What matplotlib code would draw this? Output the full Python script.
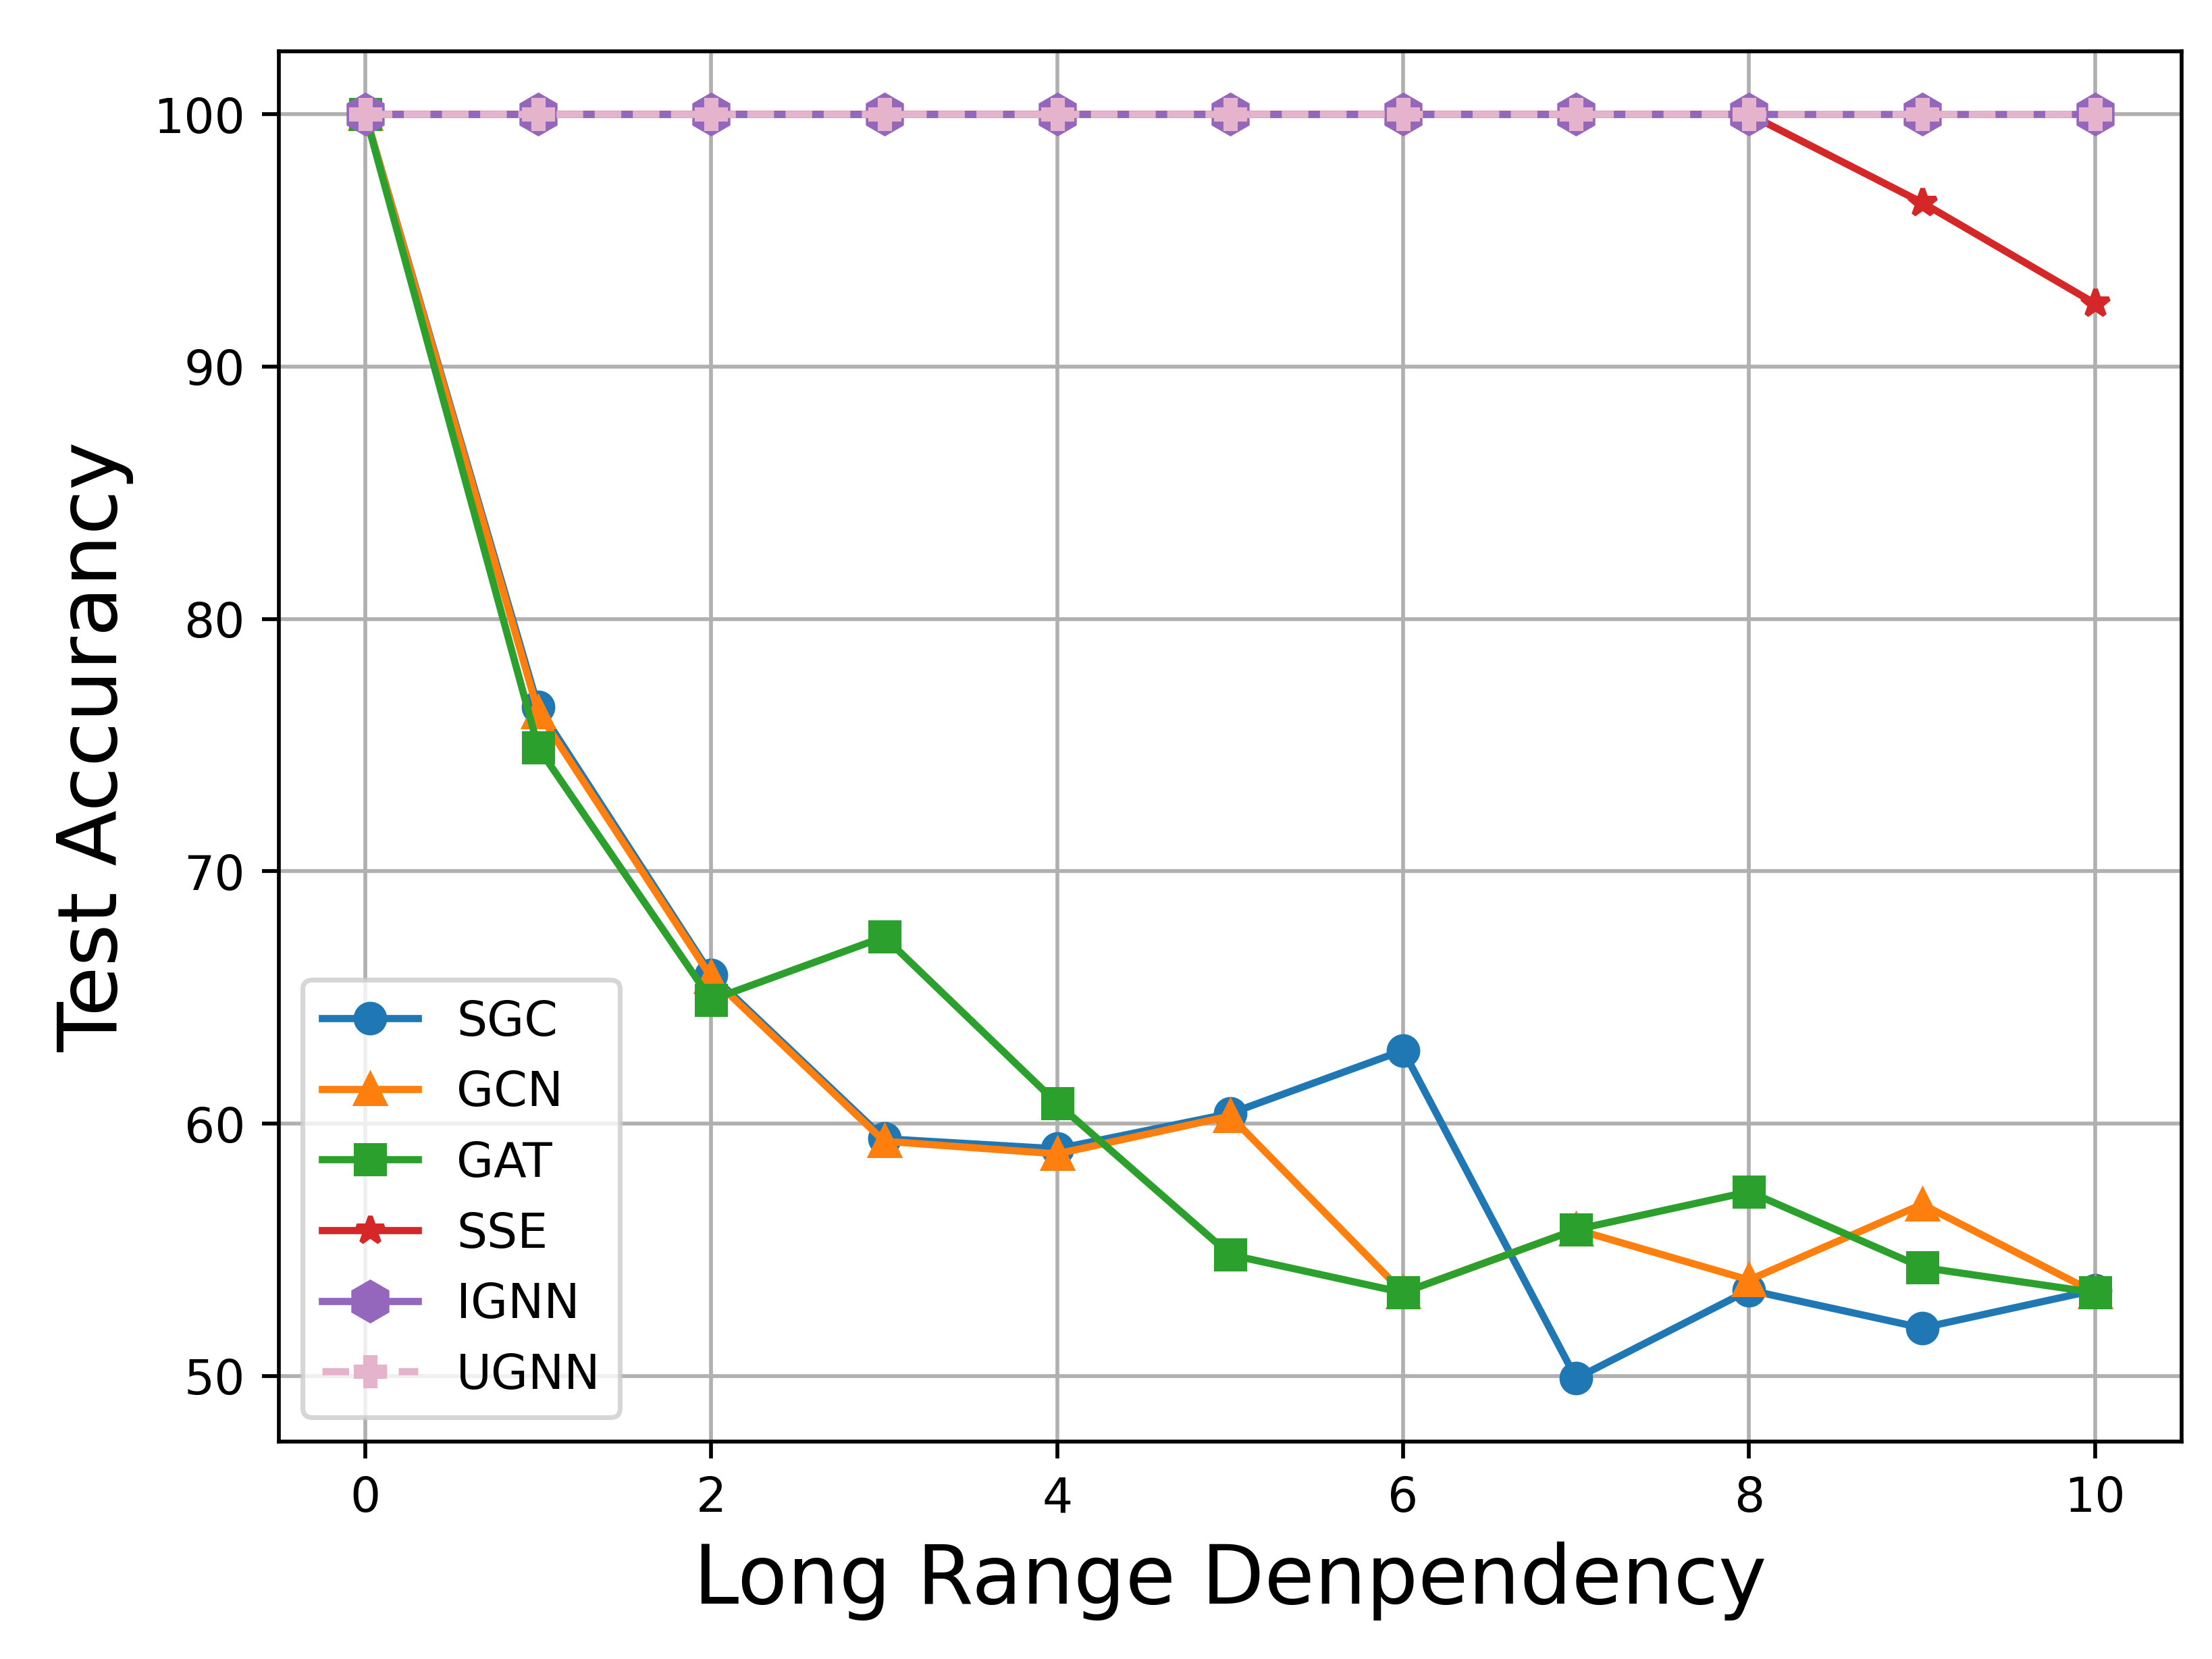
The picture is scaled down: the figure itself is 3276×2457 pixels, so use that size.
import numpy as np
import matplotlib
matplotlib.use('Agg')
import matplotlib.pyplot as plt

# Відстань залежності (вісь x)
x = np.arange(11)

# Точність на тесті для кожної моделі
sgc = [100, 76.5, 65.9, 59.4, 59.0, 60.4, 62.9, 49.9, 53.4, 51.9, 53.4]
gcn = [100, 76.3, 65.8, 59.3, 58.8, 60.3, 53.3, 55.8, 53.8, 56.8, 53.3]
gat = [100, 74.9, 64.9, 67.4, 60.8, 54.8, 53.3, 55.8, 57.3, 54.3, 53.3]
sse = [100, 100, 100, 100, 100, 100, 100, 100, 100, 96.5, 92.5]
ignn = [100] * 11
ugnn = [100] * 11

fig = plt.figure(figsize=(6.4, 4.8), dpi=512)
ax = fig.add_subplot(111)
fig.subplots_adjust(left=0.126, right=0.986, top=0.969, bottom=0.131)

ax.plot(x, sgc, marker='o', color='tab:blue', label='SGC')
ax.plot(x, gcn, marker='^', color='tab:orange', label='GCN')
ax.plot(x, gat, marker='s', color='tab:green', label='GAT')
ax.plot(x, sse, marker='*', color='tab:red', label='SSE')
ax.plot(x, ignn, marker='h', markersize=8, color='tab:purple', label='IGNN')
ax.plot(x, ugnn, marker='P', linestyle='--', color='#e5b3cc', label='UGNN')

ax.set_xlabel('Long Range Denpendency', fontsize=17)
ax.set_ylabel('Test Accurancy', fontsize=17)
ax.grid(True)
ax.legend(loc='lower left')

fig.savefig('out.png', dpi=512)
